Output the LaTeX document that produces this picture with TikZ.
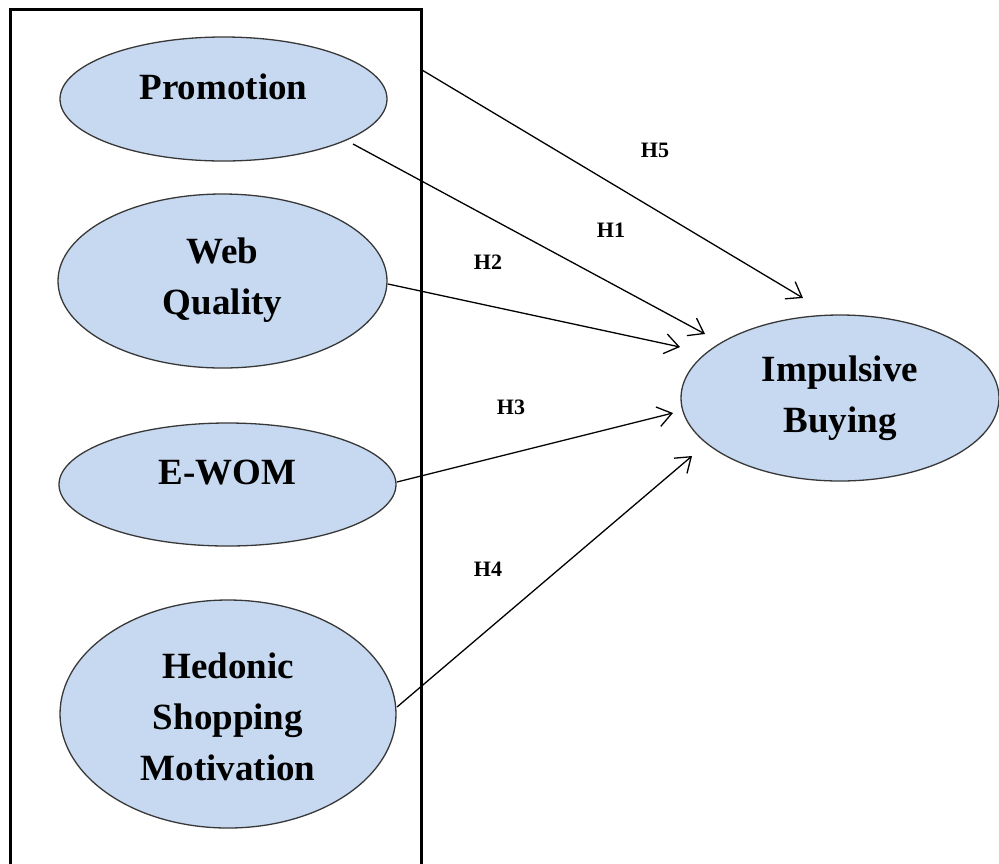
\documentclass[tikz,border=0pt]{standalone}
\usepackage{fontspec}
\setmainfont{Liberation Serif}
\usetikzlibrary{shapes.geometric,arrows.meta}
\definecolor{ellfill}{HTML}{C6D9F0}
\definecolor{ellline}{HTML}{383838}
\tikzset{
  ell/.style={ellipse, draw=ellline, line width=0.65pt, fill=ellfill, inner sep=0pt},
  ttl/.style={align=center, inner sep=0pt, font=\fontsize{18.5}{25.5}\selectfont\bfseries},
  hlab/.style={inner sep=0pt, font=\fontsize{11}{13}\selectfont\bfseries},
  conn/.style={line width=0.65pt, -{Straight Barb[length=7pt,width=10pt,line width=0.65pt]}},
  frame/.style={line width=1.5pt}
}
\begin{document}
\begin{tikzpicture}[x=0.5pt,y=-0.5pt]
\useasboundingbox (0,0) rectangle (999,863);
\clip (0,0) rectangle (999,863);
\fill[white] (0,0) rectangle (999,863);
% frame
\draw[frame] (10,9) rectangle (421,900);
% ellipses
\node[ell, minimum width=163.5pt, minimum height=62pt] (prom) at (223.5,99) {};
\node[ell, minimum width=164.5pt, minimum height=87pt] (web) at (222.5,281) {};
\node[ell, minimum width=168.5pt, minimum height=61.5pt] (ewom) at (227.5,484.5) {};
\node[ell, minimum width=168pt, minimum height=114pt] (hed) at (228,714) {};
\node[ell, minimum width=159pt, minimum height=83pt] (imp) at (840,398) {};
% titles
\node[ttl] (promT) at (223.5,87) {Promotion};
\node[ttl] (webT) at (222.5,280) {Web\\Quality};
\node[ttl] (ewomT) at (227.5,473) {E-WOM};
\node[ttl] (hedT) at (228,717) {Hedonic\\Shopping\\Motivation};
\node[ttl] (impT) at (840,398.5) {Impulsive\\Buying};
% connector points
\coordinate (s5) at (422,70);
\coordinate (e5) at (803,298);
\coordinate (s1) at (353,144);
\coordinate (e1) at (705,334);
\coordinate (s2) at (388,284);
\coordinate (e2) at (680,347);
\coordinate (s3) at (397,482);
\coordinate (e3) at (673,413);
\coordinate (s4) at (397,707);
\coordinate (e4) at (692,456);
\draw[conn] (s5) -- (e5);
\draw[conn] (s1) -- (e1);
\draw[conn] (s2) -- (e2);
\draw[conn] (s3) -- (e3);
\draw[conn] (s4) -- (e4);
% labels
\node[hlab] (h5) at (655,150) {H5};
\node[hlab] (h1) at (611,230) {H1};
\node[hlab] (h2) at (488,262) {H2};
\node[hlab] (h3) at (511,407) {H3};
\node[hlab] (h4) at (488,569) {H4};
\end{tikzpicture}
\end{document}
